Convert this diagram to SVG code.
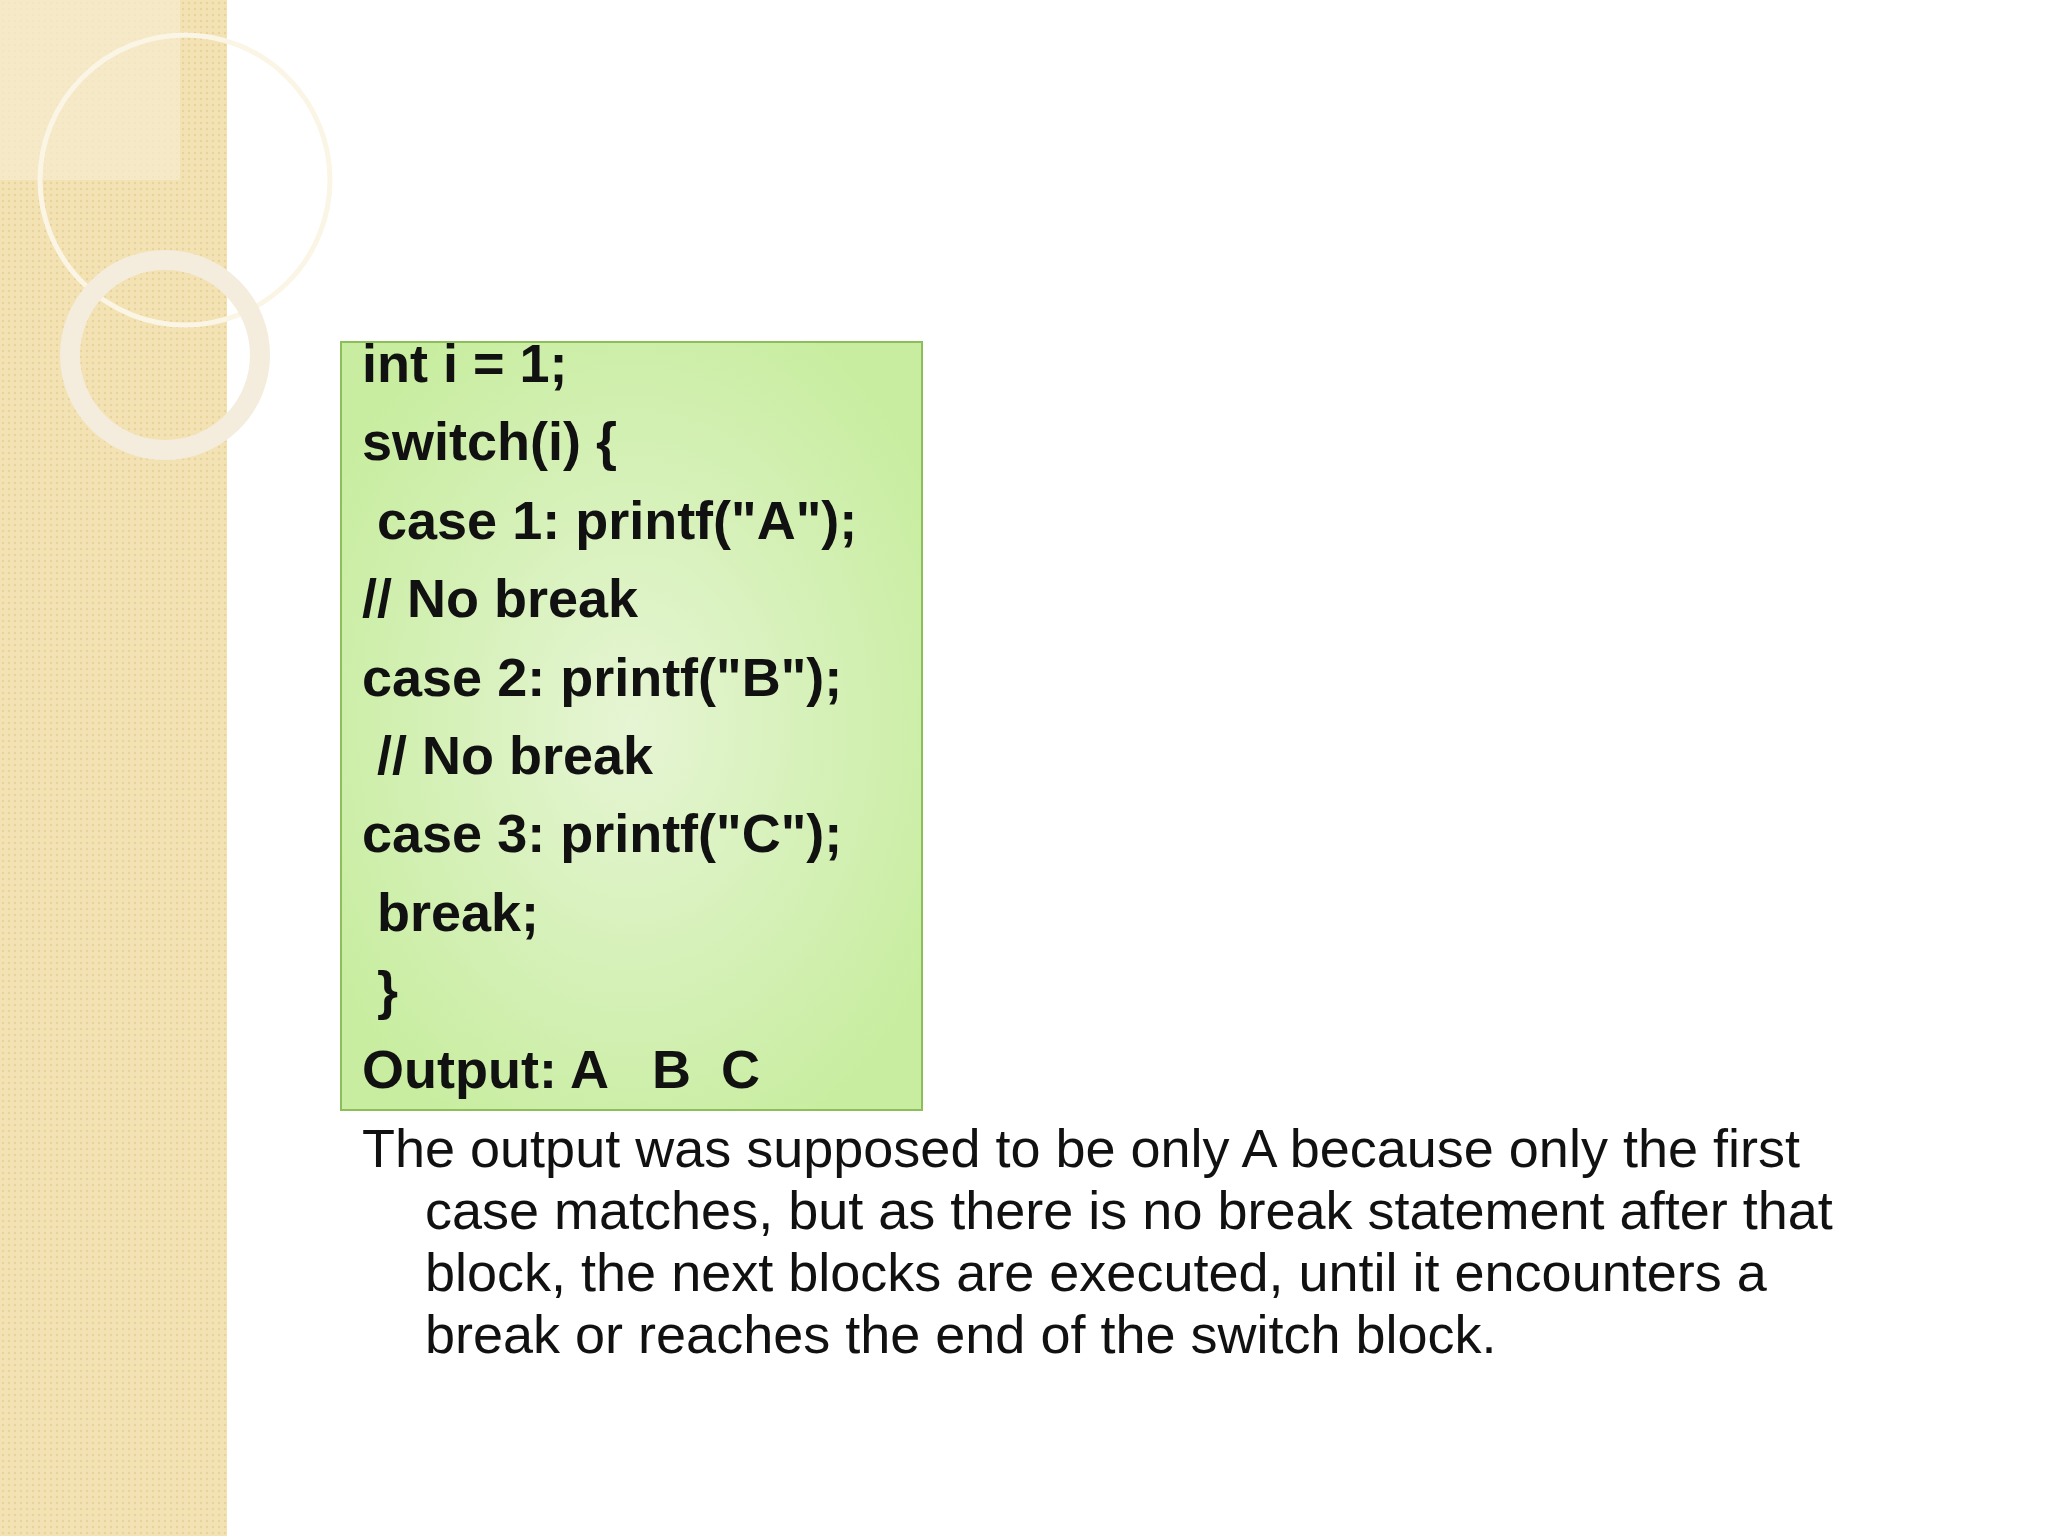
<svg xmlns="http://www.w3.org/2000/svg" width="2048" height="1536" viewBox="0 0 2048 1536">
<defs>
<radialGradient id="g" cx="0.5" cy="0.5" r="0.6"><stop offset="0" stop-color="#e6f5d4"/><stop offset="1" stop-color="#c8eda0"/></radialGradient>
<pattern id="p" width="6" height="6" patternUnits="userSpaceOnUse"><rect width="6" height="6" fill="#f3e2b4"/><circle cx="3" cy="3" r="1.2" fill="#ead29a"/></pattern>
<style>.c{font-family:"Liberation Sans",Arial,sans-serif;font-weight:bold;font-size:54px;fill:#111}.t{font-family:"Liberation Sans",Arial,sans-serif;font-size:54px;fill:#111}</style>
</defs>
<rect width="2048" height="1536" fill="#fff"/>
<g id="strip">
<rect width="227" height="1536" fill="url(#p)"/>
<rect width="180" height="180" fill="#f7ecd0" opacity="0.7"/>
<circle cx="185" cy="180" r="145" fill="none" stroke="#fbf5e6" stroke-width="5"/>
<circle cx="165" cy="355" r="95" fill="none" stroke="#f4ecdc" stroke-width="20"/>
</g>
<g id="code">
<rect x="341" y="342" width="581" height="768" fill="url(#g)" stroke="#8cbf5a" stroke-width="2"/>
<text class="c" x="362" y="382">int i = 1;</text>
<text class="c" x="362" y="460">switch(i) {</text>
<text class="c" x="377" y="539"> case 1: printf("A");</text>
<text class="c" x="362" y="617">// No break</text>
<text class="c" x="362" y="696">case 2: printf("B");</text>
<text class="c" x="377" y="774">// No break</text>
<text class="c" x="362" y="852">case 3: printf("C");</text>
<text class="c" x="377" y="931">break;</text>
<text class="c" x="377" y="1009">}</text>
<text class="c" x="362" y="1088" xml:space="preserve">Output: A   B  C</text>
</g>
<g id="para">
<text class="t" x="362" y="1167">The output was supposed to be only A because only the first</text>
<text class="t" x="425" y="1229">case matches, but as there is no break statement after that</text>
<text class="t" x="425" y="1291">block, the next blocks are executed, until it encounters a</text>
<text class="t" x="425" y="1353">break or reaches the end of the switch block.</text>
</g>
</svg>
